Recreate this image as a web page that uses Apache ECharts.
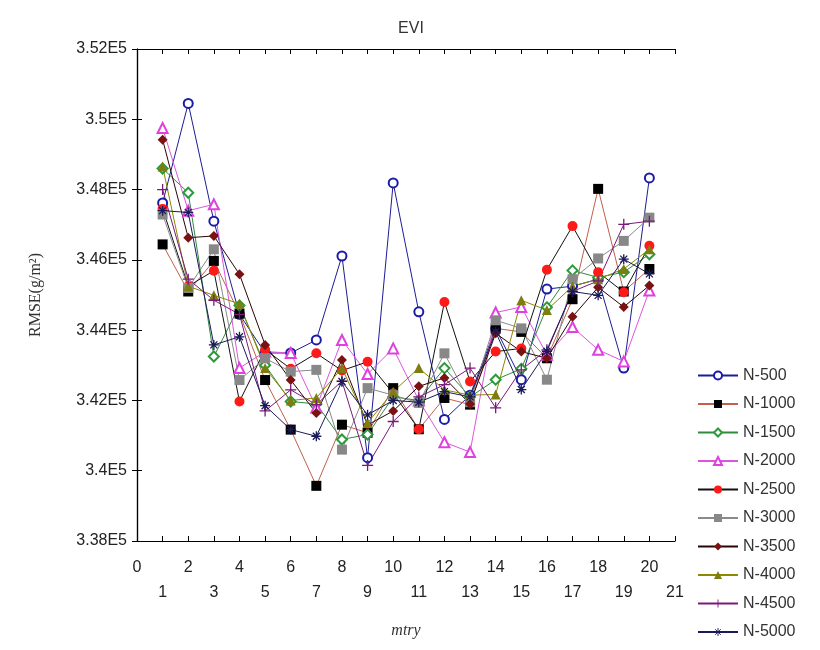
<!DOCTYPE html>
<html><head><meta charset="utf-8">
<script src="https://cdn.jsdelivr.net/npm/echarts@6/dist/echarts.min.js"></script>
<style>html,body{margin:0;padding:0;background:#fff}#c{width:820px;height:650px}</style>
</head><body><div id="c"></div>
<script>
const mtry = [1,2,3,4,5,6,7,8,9,10,11,12,13,14,15,16,17,18,19,20];
const seriesNames = ['N-500','N-1000','N-1500','N-2000','N-2500','N-3000','N-3500','N-4000','N-4500','N-5000'];
const n500  = [3.4762,3.5045,3.4710,3.4445,3.4335,3.4335,3.4372,3.4611,3.4037,3.4819,3.4452,3.4146,3.4215,3.4405,3.4259,3.4517,3.4525,3.4545,3.4292,3.4833];
const n1000 = [3.4644,3.4510,3.4597,3.4447,3.4258,3.4117,3.3957,3.4131,3.4108,3.4235,3.4118,3.4207,3.4188,3.4405,3.4395,3.4320,3.4488,3.4802,3.4510,3.4574];
const n1500 = [3.4860,3.4791,3.4325,3.4470,3.4300,3.4197,3.4190,3.4089,3.4103,3.4210,3.4200,3.4292,3.4210,3.4259,3.4290,3.4465,3.4570,3.4550,3.4565,3.4616];
const n2000 = [3.4975,3.4740,3.4758,3.4292,3.4339,3.4335,3.4180,3.4372,3.4275,3.4348,3.4200,3.4081,3.4053,3.4450,3.4466,3.4330,3.4409,3.4344,3.4311,3.4513];
const n2500 = [3.4745,3.4525,3.4569,3.4197,3.4345,3.4290,3.4334,3.4285,3.4310,3.4220,3.4118,3.4480,3.4254,3.4339,3.4348,3.4572,3.4696,3.4565,3.4508,3.4640];
const n3000 = [3.4729,3.4520,3.4630,3.4258,3.4320,3.4282,3.4287,3.4060,3.4235,3.4215,3.4193,3.4334,3.4195,3.4428,3.4405,3.4259,3.4545,3.4604,3.4654,3.4720];
const n3500 = [3.4942,3.4663,3.4668,3.4559,3.4358,3.4258,3.4164,3.4315,3.4130,3.4170,3.4240,3.4264,3.4190,3.4391,3.4339,3.4320,3.4438,3.4522,3.4466,3.4527];
const n4000 = [3.4866,3.4525,3.4499,3.4475,3.4292,3.4200,3.4207,3.4292,3.4136,3.4225,3.4292,3.4230,3.4215,3.4217,3.4485,3.4457,3.4525,3.4545,3.4574,3.4630];
const n4500 = [3.4800,3.4545,3.4485,3.4445,3.4170,3.4230,3.4188,3.4255,3.4015,3.4140,3.4210,3.4245,3.4292,3.4179,3.4287,3.4344,3.4510,3.4540,3.4701,3.4710];
const n5000 = [3.4740,3.4735,3.4358,3.4381,3.4185,3.4117,3.4098,3.4254,3.4159,3.4200,3.4195,3.4225,3.4210,3.4395,3.4231,3.4340,3.4510,3.4499,3.4602,3.4560];
const allValues = [n500,n1000,n1500,n2000,n2500,n3000,n3500,n4000,n4500,n5000];

const PLUS = 'path://M0,5L10,5M5,0L5,10';
const STAR = 'path://M0,5L10,5M5,0L5,10M1.5,1.5L8.5,8.5M8.5,1.5L1.5,8.5';
const styles = [
  {line:'#1c1c96', sym:'emptyCircle', col:'#1c1ca8', size:9},
  {line:'#c2604a', sym:'rect', col:'#000000', size:10},
  {line:'#2e8b3e', sym:'emptyDiamond', col:'#2a9a3a', size:10},
  {line:'#dd55dd', sym:'emptyTriangle', col:'#e040e0', size:10},
  {line:'#111111', sym:'circle', col:'#ff1a1a', size:10},
  {line:'#8a8a8a', sym:'rect', col:'#888888', size:10},
  {line:'#2a0505', sym:'diamond', col:'#7a1212', size:10},
  {line:'#8a8a00', sym:'triangle', col:'#7d7d10', size:10},
  {line:'#7a1a7a', sym:PLUS, col:'#7a1a7a', size:11, path:true},
  {line:'#1a1a5a', sym:STAR, col:'#1a1a5a', size:10, path:true}
];

const series = seriesNames.map((name,i)=>{
  const s = styles[i];
  const itemStyle = s.path ? {color:'rgba(0,0,0,0)', borderColor:s.col, borderWidth:1.3}
                           : {color:s.col, borderColor:s.col, borderWidth: s.sym.startsWith('empty')?1.3:0};
  return {
    name, type:'line', xAxisIndex:0, yAxisIndex:0,
    data: mtry.map((x,j)=>[x, Math.round(allValues[i][j]*1e5)]),
    symbol:s.sym, symbolSize:s.size, showAllSymbol:true,
    lineStyle:{color:s.line, width:1},
    itemStyle, emphasis:{disabled:true}, animation:false, z: 2
  };
});

const legendData = seriesNames.map((name,i)=>{
  const s = styles[i];
  if (!s.path) return {name};
  return {name, itemStyle:{color:'rgba(0,0,0,0)', borderColor:s.col, borderWidth:0.9}};
});

const chart = echarts.init(document.getElementById('c'), null, {renderer:'canvas'});
chart.setOption({
  backgroundColor:'#ffffff',
  animation:false,
  title:{text:'EVI', left:406, textAlign:'center', top:16,
    textStyle:{fontFamily:'Liberation Sans, Arial', fontSize:16, fontWeight:'normal', color:'#333'}},
  grid:{left:137, right:145, top:49, bottom:109},
  legend:{orient:'vertical', left:697, top:367, padding:0, itemGap:11.5, itemWidth:40, itemHeight:10,
    textStyle:{fontFamily:'Liberation Sans, Arial', fontSize:16, color:'#333', lineHeight:17},
    data:legendData},
  xAxis:[{
    type:'value', min:0, max:21, interval:1, position:'bottom',
    name:'mtry', nameLocation:'middle', nameGap:82,
    nameTextStyle:{fontFamily:'Liberation Serif, Times New Roman', fontStyle:'italic', fontSize:16, color:'#333'},
    axisLine:{lineStyle:{color:'#000', width:1.2}},
    axisTick:{inside:true, length:5, lineStyle:{color:'#000'}},
    splitLine:{show:false},
    axisLabel:{fontFamily:'Liberation Sans, Arial', fontSize:16, color:'#222', margin:14, lineHeight:25,
      formatter:v=> (v%2===1) ? '\n'+v : String(v)}
  },{
    type:'value', min:0, max:21, interval:1, position:'top',
    axisLine:{show:true, lineStyle:{color:'#000', width:1.2}},
    axisTick:{inside:true, length:5, lineStyle:{color:'#000'}},
    axisLabel:{show:false}, splitLine:{show:false}
  }],
  yAxis:[{
    type:'value', min:338000, max:352000, interval:2000, position:'left',
    name:'RMSE(g/m\u00B2)', nameLocation:'middle', nameGap:93, nameRotate:90,
    nameTextStyle:{fontFamily:'Liberation Serif, Times New Roman', fontSize:16, color:'#333'},
    axisLine:{show:true, lineStyle:{color:'#000', width:1.2}},
    axisTick:{inside:true, length:5, lineStyle:{color:'#000'}},
    splitLine:{show:false},
    axisLabel:{fontFamily:'Liberation Sans, Arial', fontSize:16, color:'#222', margin:10,
      formatter:v=> parseFloat((v/1e5).toFixed(2)) + 'E5'}
  },{
    type:'value', min:338000, max:352000, interval:2000, position:'right',
    axisLine:{show:true, lineStyle:{color:'#000', width:1.2}},
    axisTick:{inside:true, length:5, lineStyle:{color:'#000'}},
    axisLabel:{show:false}, splitLine:{show:false}
  }],
  series
});
</script></body></html>
